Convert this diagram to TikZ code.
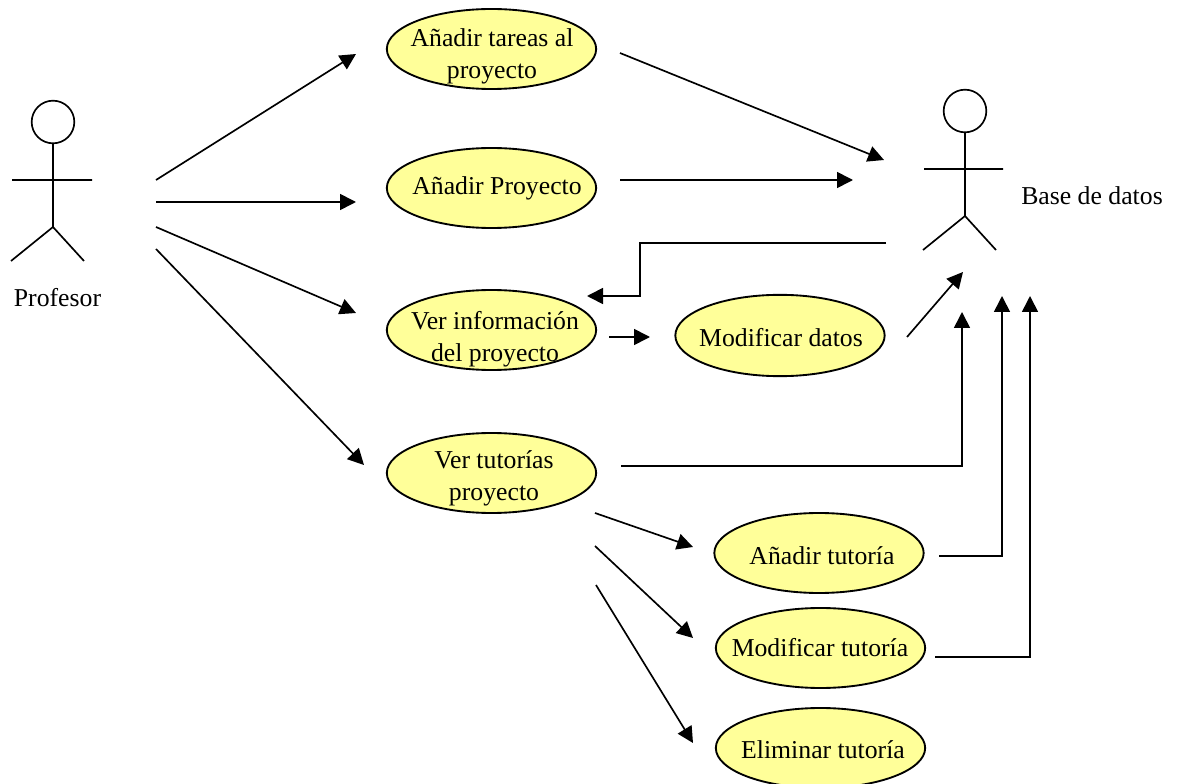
\documentclass[tikz,border=0pt]{standalone}
\usepackage{fontspec}
\setmainfont{Liberation Serif}
\usetikzlibrary{arrows.meta,shapes.geometric}
\definecolor{ucfill}{HTML}{FFFF99}
\tikzset{
  uc/.style={ellipse,draw=black,line width=1.4pt,fill=ucfill,inner sep=0pt,outer sep=0pt,minimum width=157pt,minimum height=60pt},
  lbl/.style={font=\fontsize{19.3pt}{24pt}\selectfont,inner sep=0pt,align=center},
  conn/.style={line width=1.25pt,-{Triangle[length=12pt,width=12pt]}},
  limb/.style={line width=1.25pt},
  headc/.style={circle,draw=black,line width=1.25pt,minimum size=32pt,inner sep=0pt,outer sep=0pt},
}
\begin{document}
\begin{tikzpicture}[x=0.75pt,y=-0.75pt]
\useasboundingbox (0,0) rectangle (1179,784);
% use cases
\node[uc] (tareas) at (491.5,49) {};
\node[uc] (proy) at (491.5,188) {};
\node[uc] (info) at (491.5,330) {};
\node[uc] (tut) at (491.5,473) {};
\node[uc,minimum height=61pt] (moddat) at (780,335.5) {};
\node[uc] (addtut) at (819,553) {};
\node[uc] (modtut) at (820.5,648) {};
\node[uc] (deltut) at (820.5,748) {};
\node[lbl] (tareasl) at (492,56.5) {Añadir tareas al\\proyecto};
\node[lbl] (proyl) at (497,188) {Añadir Proyecto};
\node[lbl] (infol) at (495,339) {Ver información\\del proyecto};
\node[lbl] (tutl) at (494,478.5) {Ver tutorías\\proyecto};
\node[lbl] (moddatl) at (781,338) {Modificar datos};
\node[lbl] (addtutl) at (822,556) {Añadir tutoría};
\node[lbl] (modtutl) at (820,648) {Modificar tutoría};
\node[lbl] (deltutl) at (823,750) {Eliminar tutoría};
% actors
\node[headc] (h1) at (53,122) {};
\coordinate (hip1) at (53,227);
\coordinate (al1) at (12,180);
\coordinate (ar1) at (92,180);
\coordinate (ll1) at (11,261);
\coordinate (lr1) at (84,261);
\draw[limb] (h1.south) -- (hip1) (al1) -- (ar1) (ll1) -- (hip1) -- (lr1);
\node[lbl] (profesor) at (57.5,298) {Profesor};
\node[headc] (h2) at (965,111) {};
\coordinate (hip2) at (965,216);
\coordinate (al2) at (924,169);
\coordinate (ar2) at (1003,169);
\coordinate (ll2) at (923,250);
\coordinate (lr2) at (996,250);
\draw[limb] (h2.south) -- (hip2) (al2) -- (ar2) (ll2) -- (hip2) -- (lr2);
\node[lbl] (bd) at (1092,196) {Base de datos};
% connector ends
\coordinate (p1) at (156,180); \coordinate (q1) at (356,54);
\coordinate (p2) at (156,202); \coordinate (q2) at (356,202);
\coordinate (p3) at (156,227); \coordinate (q3) at (356,313);
\coordinate (p4) at (156,249); \coordinate (q4) at (364,465);
\coordinate (p5) at (620,53);  \coordinate (q5) at (884,160);
\coordinate (p6) at (620,180); \coordinate (q6) at (853,180);
\coordinate (p7) at (886,243); \coordinate (b7a) at (640,243); \coordinate (b7b) at (640,296); \coordinate (q7) at (587,296);
\coordinate (p8) at (609,337); \coordinate (q8) at (650,337);
\coordinate (p9) at (907,337); \coordinate (q9) at (963,272);
\coordinate (p10) at (621,466); \coordinate (b10) at (962,466); \coordinate (q10) at (962,312);
\coordinate (p11) at (595,513); \coordinate (q11) at (693,547);
\coordinate (p12) at (595,546); \coordinate (q12) at (693,638);
\coordinate (p13) at (596,585); \coordinate (q13) at (693,743);
\coordinate (p14) at (939,556); \coordinate (b14) at (1002,556); \coordinate (q14) at (1002,296);
\coordinate (p15) at (935,657); \coordinate (b15) at (1030,657); \coordinate (q15) at (1030,296);
% connectors
\draw[conn] (p1) -- (q1);
\draw[conn] (p2) -- (q2);
\draw[conn] (p3) -- (q3);
\draw[conn] (p4) -- (q4);
\draw[conn] (p5) -- (q5);
\draw[conn] (p6) -- (q6);
\draw[conn] (p7) -- (b7a) -- (b7b) -- (q7);
\draw[conn] (p8) -- (q8);
\draw[conn] (p9) -- (q9);
\draw[conn] (p10) -- (b10) -- (q10);
\draw[conn] (p11) -- (q11);
\draw[conn] (p12) -- (q12);
\draw[conn] (p13) -- (q13);
\draw[conn] (p14) -- (b14) -- (q14);
\draw[conn] (p15) -- (b15) -- (q15);
\end{tikzpicture}
\end{document}
